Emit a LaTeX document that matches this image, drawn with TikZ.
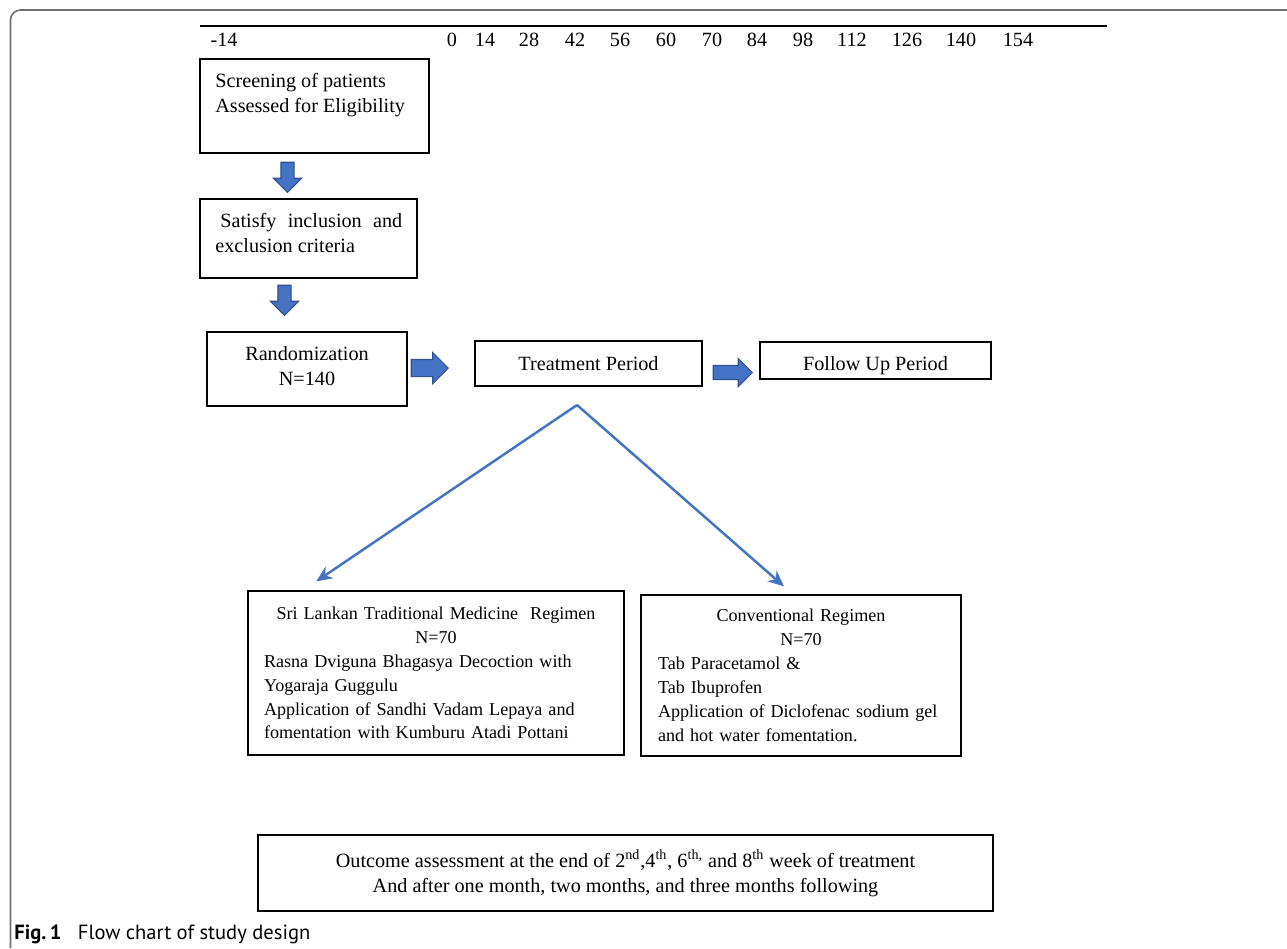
\documentclass[tikz,border=0pt]{standalone}
\usepackage{xcolor}
\usepackage{fontspec}
\setmainfont{Liberation Serif}
\newfontfamily\capfont{PT Sans}
\usepackage{tikz}
\usetikzlibrary{shapes,arrows.meta,positioning,calc}
\definecolor{lineblue}{RGB}{68,114,196}
\definecolor{blkedge}{RGB}{47,82,143}
\definecolor{framegray}{RGB}{110,110,110}

\begin{document}
\begin{tikzpicture}[x=0.02cm,y=-0.02cm,
  box/.style={draw,line width=0.8pt,inner sep=0pt,align=center,
              font=\fontsize{11.5}{14.2}\selectfont},
  armbox/.style={box,align=left,font=\fontsize{10.3}{13.6}\selectfont},
  txt/.style={inner sep=0pt,align=left,font=\fontsize{11.5}{14.2}\selectfont},
  tick/.style={inner sep=0pt,font=\fontsize{11.5}{14}\selectfont},
  blk/.style={single arrow,draw=blkedge,fill=lineblue,line width=0.6pt,
              single arrow head extend=0.14cm,anchor=tip},
  arr/.style={->,>={Stealth[length=0.32cm,width=0.28cm]},draw=lineblue,line width=1.4pt}
]
\useasboundingbox (0,0) rectangle (1287,948);
% outer frame of the figure
\draw[framegray,line width=0.9pt,rounded corners=0.2cm] (1287,10) -- (10.5,10) -- (10.5,948);

% time axis (days)
\draw[line width=0.6pt] (200,26) -- (1107,26);
\node[tick] (tm14) at (224,40) {-14};
\foreach \d/\x in {0/452,14/485,28/529,42/575,56/620,60/666,70/712,84/757,
                   98/803,112/852,126/907,140/961,154/1018}
  \node[tick] (t\d) at (\x,40) {\d};

% Column: screening -> criteria -> randomization
\node[box,minimum width=4.58cm,minimum height=1.88cm] (screen) at (314.5,106) {};
\node[txt,anchor=west] (screentxt) at (215,95) {Screening of patients\\Assessed for Eligibility};
\node[blk,shape border rotate=270,minimum height=0.6cm,inner sep=0.12cm,
      single arrow head extend=0.15cm] (down1) at (287.5,193) {};
\node[box,minimum width=4.34cm,minimum height=1.58cm] (crit) at (308.5,238.5) {};
\node[txt,anchor=west] (crittxt) at (215,232.5)
  {\hspace{0.1cm}\makebox[3.64cm][s]{Satisfy inclusion and}\\exclusion criteria};
\node[blk,shape border rotate=270,minimum height=0.6cm,inner sep=0.12cm,
      single arrow head extend=0.15cm] (down2) at (284.5,316) {};
\node[box,minimum width=4cm,minimum height=1.48cm] (rand) at (307,369)
  {Randomization\\N=140\\[-0.38cm]\mbox{}};

% Row: randomization -> treatment -> follow up
\node[blk,minimum height=0.74cm,inner sep=0.16cm] (right1) at (449,368) {};
\node[box,minimum width=4.54cm,minimum height=0.9cm] (treat) at (588.5,363.5) {Treatment Period};
\node[blk,minimum height=0.78cm,inner sep=0.13cm] (right2) at (753,372.5) {};
\node[box,minimum width=4.62cm,minimum height=0.74cm] (follow) at (875.5,360.5)
  {\raisebox{-0.1cm}[\height][\depth]{Follow Up Period}};

% the two arms
\node[armbox,minimum width=7.52cm,minimum height=3.28cm,text width=6.88cm] (sltm) at (436,673)
  {\makebox[6.88cm]{Sri Lankan Traditional Medicine\ \ Regimen}\\\makebox[6.88cm]{N=70}\\
   Rasna Dviguna Bhagasya Decoction with\\Yogaraja Guggulu\\
   Application of Sandhi Vadam Lepaya and\\fomentation with Kumburu Atadi Pottani};
\node[armbox,minimum width=6.4cm,minimum height=3.22cm,text width=5.72cm] (conv) at (801,675.5)
  {\makebox[5.72cm]{Conventional Regimen}\\\makebox[5.72cm]{N=70}\\
   Tab Paracetamol \&\\Tab Ibuprofen\\
   Application of Diclofenac sodium gel\\and hot water fomentation.};

\coordinate (split) at (577,405);
\draw[arr,shorten >=0.32cm] (split) -- ([xshift=-2.66cm]sltm.north);
\draw[arr,shorten >=0.24cm] (split) -- ([xshift=-0.16cm]conv.north);

% outcome
\node[box,minimum width=14.7cm,minimum height=1.52cm] (outcome) at (625.5,873)
  {Outcome assessment at the end of 2\textsuperscript{nd},4\textsuperscript{th}, 6\textsuperscript{th,} and 8\textsuperscript{th} week of treatment\\
   And after one month, two months, and three months following};

% caption
\node[anchor=base west,inner sep=0pt,font=\capfont\fontsize{11.7}{13}\selectfont] (cap) at (14,939)
  {\textbf{Fig.\,1}\hspace{0.8em}Flow chart of study design};
\end{tikzpicture}
\end{document}
